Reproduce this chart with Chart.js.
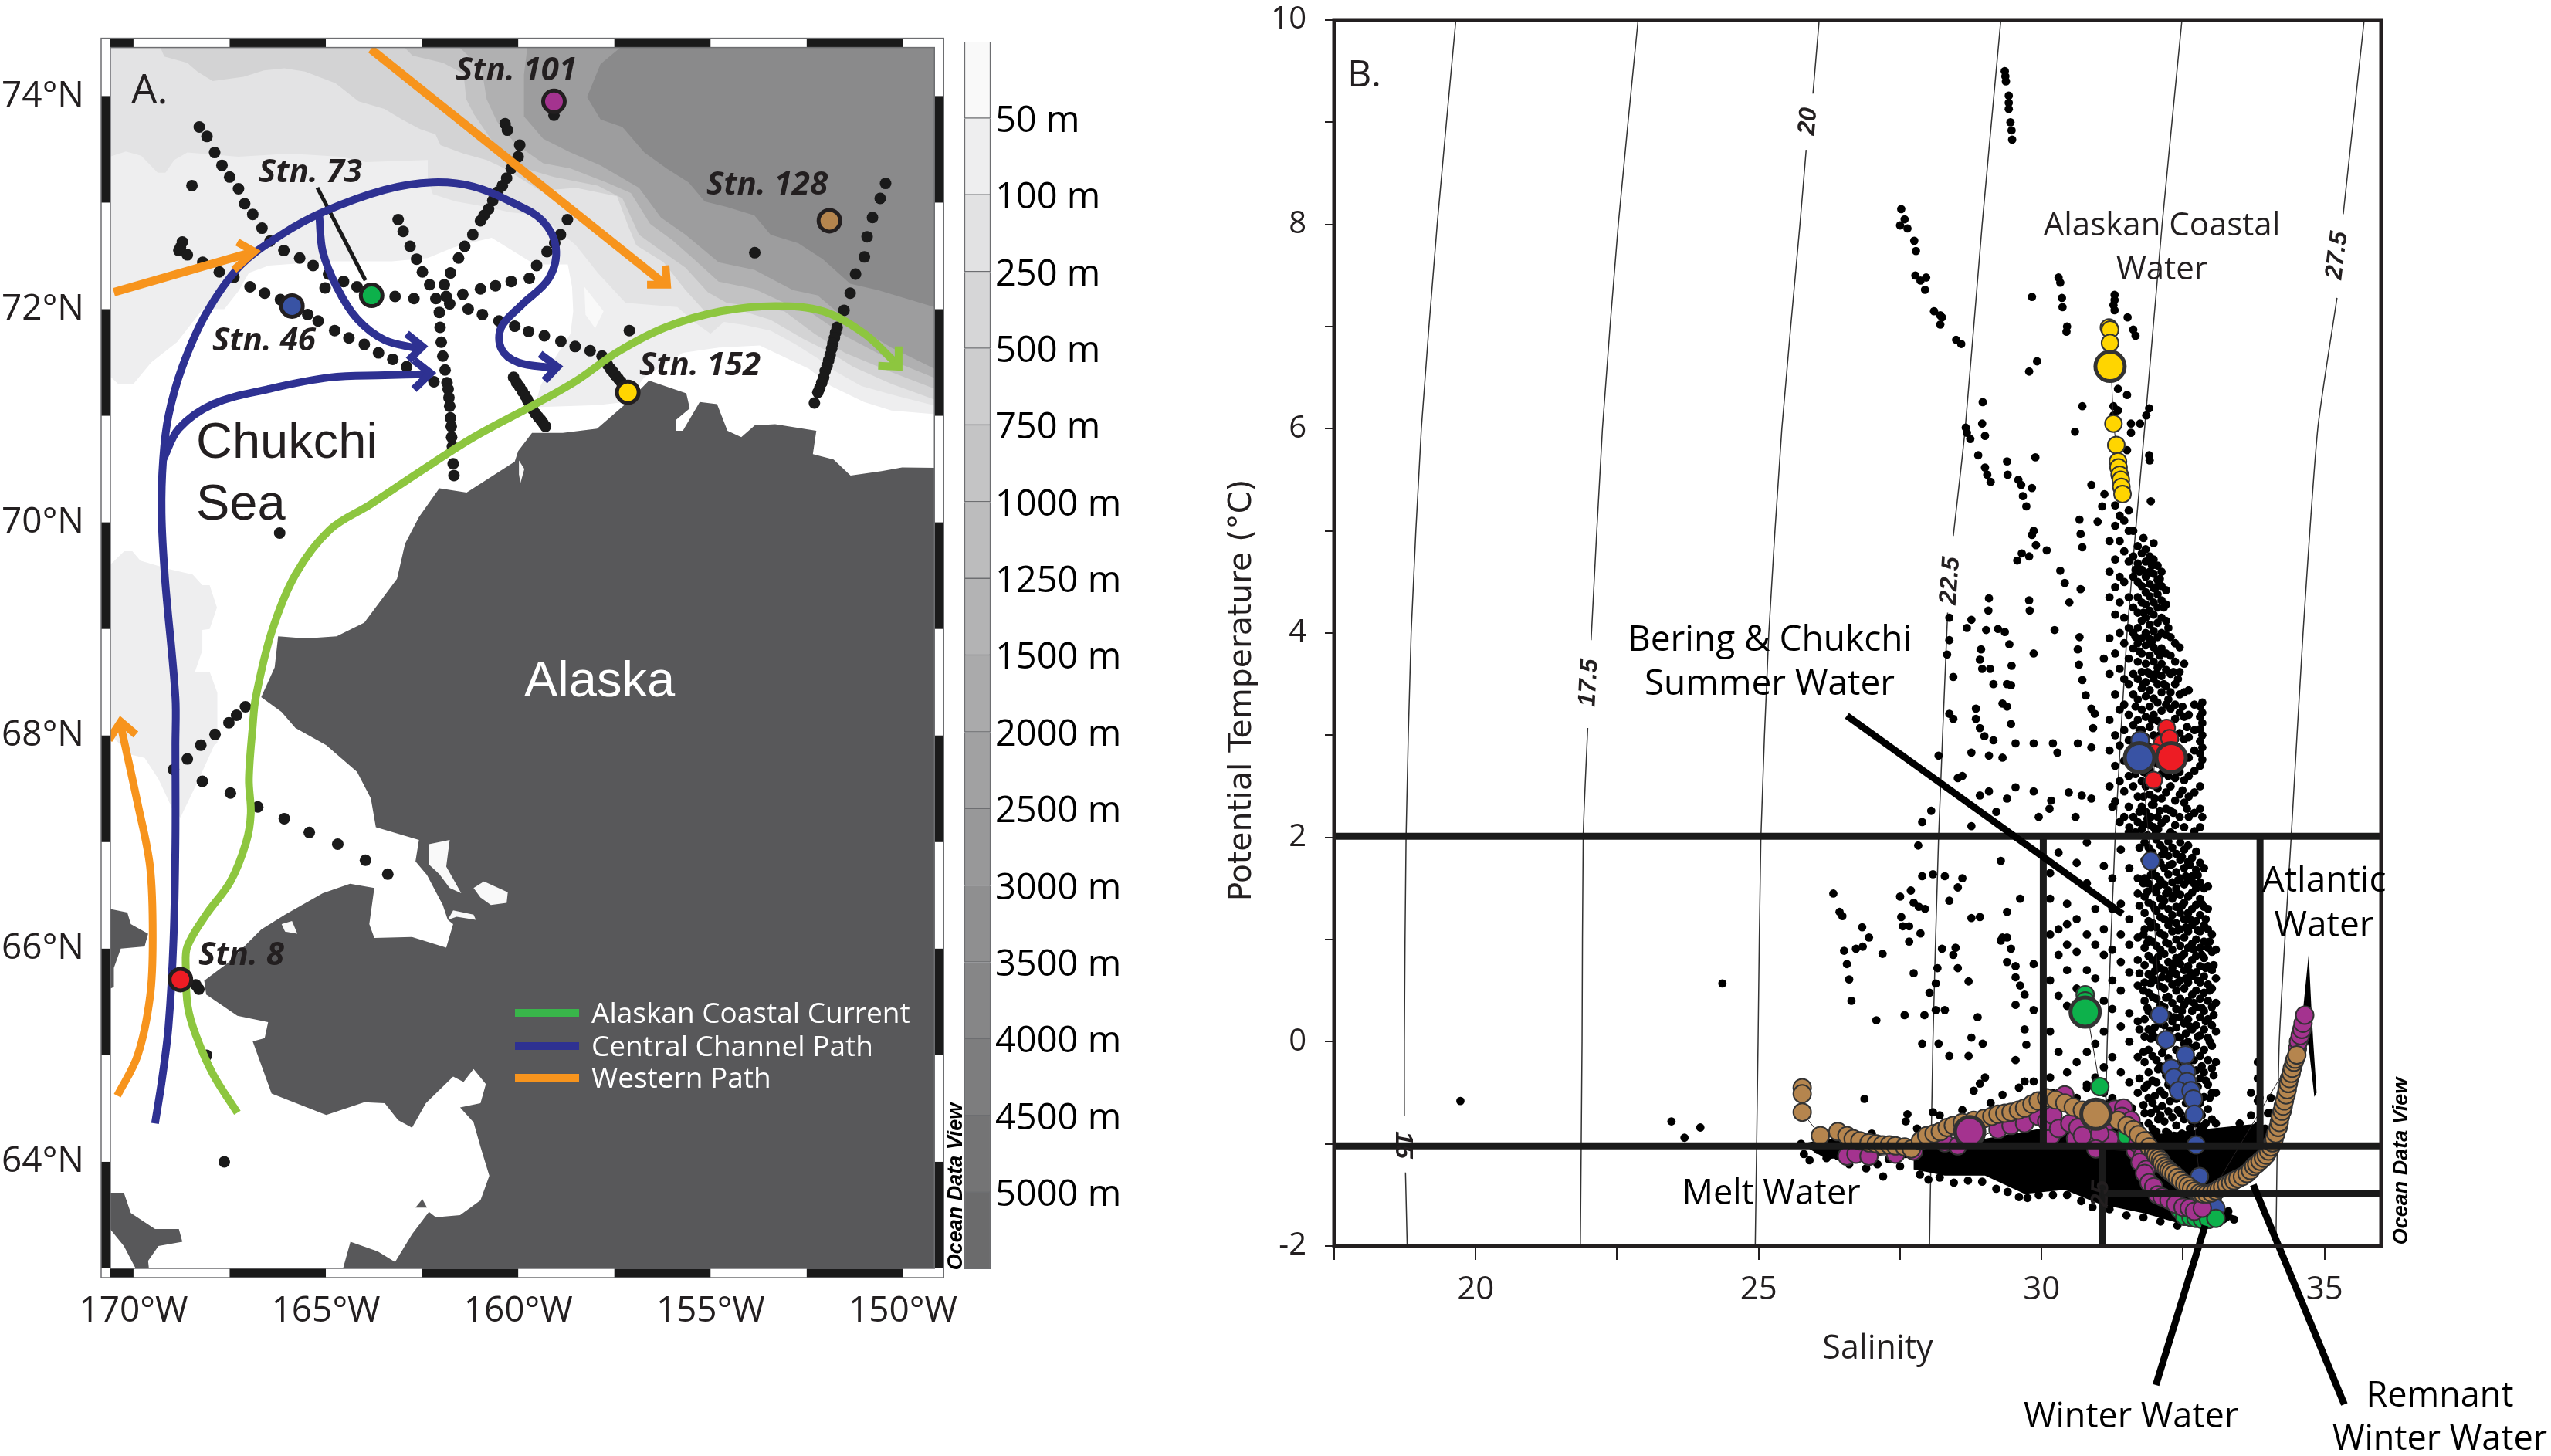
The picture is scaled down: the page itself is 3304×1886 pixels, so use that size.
<!DOCTYPE html>
<html>
<head>
<meta charset="utf-8">
<title>Chukchi Sea stations and T-S diagram</title>
<script src="https://cdn.jsdelivr.net/npm/chart.js@4/dist/chart.umd.js"></script>
<style>
html, body { margin: 0; background: #fff; }
canvas { position: absolute; top: 0; }
#mapCanvas { left: 0; }
#depthCanvas { left: 1236px; }
#tsCanvas { left: 1500px; }
</style>
</head>
<body>
<canvas id="mapCanvas" width="1270" height="1886"></canvas>
<canvas id="depthCanvas" width="264" height="1886"></canvas>
<canvas id="tsCanvas" width="1804" height="1886"></canvas>
<script>
// ---------- panel A: map values, [longitude, latitude] ----------
const lonTicks = [-170, -165, -160, -155, -150];
const latTicks = [64, 66, 68, 70, 72, 74];
const frameLonBands = [[-170.6, -170], [-167.5, -165], [-162.5, -160], [-157.5, -155], [-152.5, -150]];
const frameLatBands = [[63, 64], [65, 66], [67, 68], [69, 70], [71, 72], [73, 74]];

const contour50 = [[-170.7,71.40],[-170.4,71.3],[-170,71.3],[-169.54,71.5],[-168.87,71.69],[-168.2,72],[-167.64,72],[-167.27,72.17],[-167,72.34],[-166.48,72.41],[-164.95,72.45],[-163.28,72.45],[-162.35,72.48],[-161.68,72.58],[-161.15,72.63],[-160.69,72.67],[-159.57,72.42],[-158.71,72.42],[-158.6,72.21],[-158.57,71.98],[-158.64,71.77],[-159,71.57],[-159.42,71.28],[-159.57,71.08],[-157.93,71.1],[-157.21,71.13],[-156.72,71.36],[-155.72,71.59],[-154.79,71.64],[-153.72,71.66],[-152.44,71.44],[-151.87,71.28],[-151.01,71.13],[-150.3,71.05],[-149,71.01],[-149,74.6],[-170.7,74.6]];
const contour50West = [[-170.7,69.57],[-170.24,69.73],[-170.03,69.73],[-169.82,69.64],[-169.07,69.56],[-168.46,69.51],[-168.21,69.41],[-168.02,69.41],[-167.83,69.2],[-168.02,69],[-168.21,68.99],[-168.21,68.8],[-168.4,68.6],[-168.02,68.6],[-167.82,68.4],[-167.82,67.93],[-167.9,67.91],[-168.3,67.59],[-168.78,67.23],[-169,67.32],[-169.35,67.59],[-169.71,67.79],[-170.07,67.82],[-170.7,68.04]];
const shelfPocket = [[-158.28,72.21],[-157.78,71.98],[-158,71.82],[-158.25,71.95]];
const contour100 = [[-170.7,73.42],[-170.2,73.48],[-169.8,73.44],[-169.37,73.28],[-169.17,73.28],[-168.94,73.4],[-168.6,73.47],[-167.27,73.43],[-165.94,73.46],[-164.61,73.43],[-163.95,73.38],[-162.35,73.4],[-162.35,73.23],[-162.22,73.08],[-161.62,73.01],[-160.82,72.96],[-160.21,72.91],[-159.42,72.88],[-158.5,72.6],[-157.93,72.34],[-157.21,72.06],[-155.86,72.02],[-155.43,71.88],[-155,71.77],[-154.65,71.88],[-154.08,71.85],[-153.44,71.8],[-152.79,71.67],[-152.22,71.54],[-151.72,71.41],[-151.08,71.28],[-150.3,71.2],[-149,71.08],[-149,74.6],[-170.7,74.6]];
const contour250 = [[-169.47,74.6],[-169.2,74.37],[-168.6,74.31],[-168.34,74.23],[-167.94,74.14],[-167.14,74.18],[-166.61,74.24],[-166.08,74.26],[-165.54,74.23],[-164.75,74.12],[-164.15,73.95],[-163.48,73.88],[-163.02,73.78],[-162.55,73.69],[-162.15,73.64],[-162.02,73.54],[-161.42,73.46],[-160.82,73.4],[-160.35,73.32],[-159.42,73.11],[-158.5,73.14],[-157.43,73.06],[-157.14,72.78],[-156.93,72.6],[-156.22,72.44],[-155.65,72.18],[-155.15,71.98],[-154.15,71.98],[-153.44,71.9],[-152.58,71.72],[-151.87,71.59],[-151.3,71.46],[-150.3,71.3],[-149,71.13],[-149,74.6]];
const contour500 = [[-163.35,74.6],[-162.75,74.38],[-161.95,74.31],[-161.42,74.21],[-161.35,73.97],[-161.15,73.83],[-160.28,73.37],[-159.07,73.24],[-157.93,73.16],[-157.29,73.04],[-156.86,72.7],[-156.29,72.55],[-155.65,72.39],[-155.07,72.16],[-154.58,72.06],[-153.72,72.02],[-153.08,71.98],[-152.3,71.77],[-151.51,71.59],[-150.3,71.41],[-149,71.23],[-149,74.6]];
const contour1000 = [[-161.95,74.6],[-160.95,74.26],[-160.82,73.97],[-160.55,73.76],[-160.07,73.55],[-159.35,73.37],[-158.64,73.32],[-157.71,73.19],[-157.07,73.09],[-156.57,72.8],[-156,72.65],[-155.43,72.47],[-154.79,72.26],[-153.86,72.19],[-153.08,72.06],[-152.44,71.98],[-151.51,71.75],[-150.3,71.52],[-149,71.33],[-149,74.6]];
const contour1500 = [[-159.71,74.6],[-159.85,74.2],[-159.85,73.81],[-159.35,73.6],[-158.64,73.47],[-157.86,73.35],[-156.86,73.14],[-156.29,72.86],[-155.65,72.7],[-154.79,72.44],[-153.86,72.37],[-152.86,72.18],[-152.22,72.13],[-151.37,71.87],[-150.3,71.64],[-149,71.41],[-149,74.6]];
const contour2500 = [[-156.86,74.6],[-157.86,74.3],[-158.21,73.99],[-157.86,73.78],[-157.29,73.71],[-156.72,73.47],[-156.14,73.32],[-155.57,73.19],[-155.15,73.01],[-154.58,72.96],[-153.86,72.88],[-153.44,72.7],[-152.72,72.62],[-152.08,72.47],[-151.37,72.24],[-150.65,72.18],[-149,72],[-149,74.6]];

// land outlines
const alaskaCoast = [[-149,70.51],[-150.02,70.515],[-150.55,70.48],[-151.36,70.44],[-151.8,70.59],[-152.34,70.64],[-152.25,70.86],[-153.32,70.92],[-153.85,70.91],[-154.2,70.8],[-154.56,70.86],[-154.83,71.11],[-155.28,71.13],[-155.72,70.86],[-155.9,70.86],[-155.9,70.96],[-155.54,71.07],[-155.63,71.21],[-156.6,71.33],[-157.15,71.13],[-157.95,70.88],[-158.84,70.84],[-159.64,70.84],[-160,70.67],[-160.09,70.57],[-161.34,70.28],[-162.05,70.32],[-162.58,70.05],[-162.94,69.8],[-163.15,69.47],[-164,69.06],[-164.72,68.93],[-165.52,68.91],[-166.24,68.93],[-166.33,68.64],[-166.68,68.36],[-166.15,68.22],[-165.79,68.07],[-164.99,67.91],[-164.19,67.66],[-163.83,67.41],[-163.7,67.14],[-162.58,67.02],[-162.67,66.82],[-162.37,66.69],[-161.96,66.41],[-161.83,66.27],[-161.69,66.23],[-161.87,66.01],[-162.76,66.11],[-163.74,66.1],[-163.87,66.23],[-163.74,66.57],[-164.37,66.61],[-165.08,66.52],[-166.06,66.32],[-166.68,66.18],[-167.57,65.86],[-168.16,65.7],[-168.11,65.57],[-167.3,65.37],[-166.5,65.31],[-166.59,65.16],[-166.9,65.13],[-166.41,64.64],[-164.99,64.44],[-164,64.56],[-163.47,64.55],[-163.12,64.39],[-162.76,64.32],[-162.4,64.55],[-161.69,64.8],[-161.42,64.75],[-161.16,64.87],[-160.84,64.73],[-160.98,64.55],[-161.51,64.51],[-161.16,64.37],[-160.98,64.14],[-160.75,63.87],[-160.98,63.64],[-161.51,63.5],[-162.14,63.48],[-162.32,63.53],[-162.76,63.32],[-163.2,63.06],[-163.65,63.16],[-164.36,63.25],[-164.63,62.9],[-149,62.9]];
const chukotkaCoast = [[-170.7,66.38],[-170.16,66.34],[-170.07,66.23],[-169.62,66.14],[-169.71,66.02],[-170.33,66],[-170.51,65.82],[-170.51,65.64],[-170.7,65.61]];
const stLawrenceCoast = [[-170.7,63.71],[-170.25,63.71],[-170.07,63.52],[-169.44,63.37],[-168.82,63.37],[-168.73,63.25],[-169.35,63.21],[-169.62,63.07],[-169.57,62.9],[-169.8,62.9],[-170.25,63.21],[-170.7,63.41]];
const nunivakCoast = [[-162.67,63.57],[-162.49,63.65],[-162.37,63.57]];
const inletKotzebue = [[-162.32,66.98],[-161.78,67.02],[-161.87,66.77],[-161.48,66.52],[-161.78,66.57],[-162.05,66.7],[-162.32,66.79]];
const inletSelawik = [[-161.16,66.57],[-160.89,66.63],[-160.27,66.53],[-160.3,66.43],[-160.71,66.41],[-160.98,66.48]];
const inletBuckland = [[-161.83,66.27],[-161.69,66.36],[-161.16,66.32],[-161.1,66.27],[-161.6,66.3]];
const inletShishmaref = [[-166.15,66.23],[-165.88,66.26],[-165.74,66.14],[-166.06,66.16]];
const inletWainwright = [[-159.98,70.58],[-159.84,70.5],[-159.94,70.37],[-159.98,70.45]];

// sampling stations, in transects
const transectNW = [[-168.29,73.71],[-168.09,73.62],[-167.89,73.47],[-167.7,73.35],[-167.5,73.24],[-167.27,73.13],[-167.11,72.99],[-166.9,72.89],[-166.66,72.76],[-166.45,72.64],[-166.09,72.55],[-165.68,72.48],[-165.33,72.41],[-164.93,72.33],[-164.54,72.26],[-164.19,72.21],[-163.2,72.12],[-162.71,72.1],[-162.14,72.1],[-161.78,72.05]];
const transectWest = [[-168.73,72.63],[-168.78,72.58],[-168.82,72.55],[-168.6,72.51],[-168.2,72.44],[-167.77,72.35],[-167.39,72.3],[-166.97,72.21],[-166.59,72.15],[-166.18,72.09],[-165.47,71.95],[-165.2,71.89],[-164.77,71.8],[-164.4,71.73],[-164,71.67],[-163.63,71.59],[-163.26,71.53],[-162.9,71.46],[-162.19,71.32]];
const transectCentral = [[-163.12,72.84],[-162.99,72.73],[-162.81,72.59],[-162.64,72.47],[-162.49,72.35],[-162.3,72.23],[-162.05,71.97],[-162.03,71.83],[-162,71.69],[-161.96,71.56],[-161.9,71.43],[-161.85,71.31],[-161.82,71.25],[-161.8,71.17],[-161.78,71.09],[-161.76,70.98],[-161.74,70.9],[-161.73,70.8],[-161.71,70.71],[-161.69,70.55],[-161.67,70.44]];
const transectHerald = [[-160.34,73.74],[-160.28,73.68],[-159.96,73.54],[-160,73.43],[-160.18,73.32],[-160.3,73.23],[-160.41,73.16],[-160.53,73.1],[-160.66,73.02],[-160.77,72.94],[-160.89,72.88],[-160.98,72.83],[-161.18,72.7],[-161.39,72.59],[-161.55,72.48],[-161.76,72.34],[-161.92,72.23]];
const transectHanna = [[-158.72,72.84],[-158.9,72.7],[-159.05,72.62],[-159.25,72.54],[-159.52,72.41],[-159.71,72.29],[-160.18,72.26],[-160.59,72.22],[-160.98,72.19],[-161.44,72.14],[-161.87,72.12]];
const transectBarrow = [[-161.3,72],[-160.93,71.95],[-160.5,71.89],[-160.09,71.84],[-159.73,71.79],[-159.32,71.75],[-158.89,71.7],[-158.52,71.65],[-158.13,71.61],[-157.82,71.56],[-157.75,71.52],[-157.68,71.48],[-157.6,71.44],[-157.53,71.41],[-157.47,71.38],[-157.4,71.35],[-157.33,71.32]];
const transectLedyard = [[-160.12,71.36],[-160.04,71.31],[-159.96,71.27],[-159.89,71.23],[-159.82,71.19],[-159.76,71.15],[-159.7,71.11],[-159.62,71.06],[-159.55,71.02],[-159.48,70.99],[-159.41,70.96],[-159.35,70.93],[-159.29,70.9]];
const transectBeaufort = [[-150.45,73.18],[-150.59,73.04],[-150.79,72.86],[-150.93,72.68],[-151,72.49],[-151.23,72.33],[-151.37,72.15],[-151.53,71.99],[-151.71,71.83],[-151.75,71.78],[-151.78,71.73],[-151.82,71.68],[-151.85,71.63],[-151.89,71.57],[-151.93,71.52],[-151.97,71.47],[-152.02,71.42],[-152.06,71.36],[-152.11,71.31],[-152.16,71.26],[-152.21,71.22],[-152.3,71.12]];
const transectLisburne = [[-167.09,68.27],[-167.32,68.19],[-167.52,68.12],[-167.88,68.01],[-168.25,67.91],[-168.6,67.78],[-168.96,67.68]];
const transectHope = [[-168.21,67.57],[-167.48,67.46],[-166.77,67.33],[-166.08,67.22],[-165.43,67.09],[-164.69,66.98],[-163.97,66.83],[-163.39,66.7]];
const loneStations = [[-168.48,73.16],[-157.11,71.8],[-153.85,72.53],[-166.2,69.9],[-167.64,64],[-168.3,65.62],[-168.38,65.66],[-168.1,65],[-159.07,73.82],[-165.02,72.2]];

const stationPoints = [
  { name: 'Stn. 101', at: [-159.07,73.95], color: '#a4338f' },
  { name: 'Stn. 128', at: [-151.91,72.83], color: '#b5854e' },
  { name: 'Stn. 73',  at: [-163.81,72.13], color: '#0db14b' },
  { name: 'Stn. 46',  at: [-165.88,72.03], color: '#3953a4' },
  { name: 'Stn. 152', at: [-157.15,71.22], color: '#ffd500' },
  { name: 'Stn. 8',   at: [-168.78,65.71], color: '#ed1c24' }
];

// current paths
const centralPath = [[-169.44,64.36],[-169.26,64.77],[-169.09,65.27],[-168.96,66.09],[-168.91,67],[-168.91,67.91],[-168.91,68.36],[-169.18,69.47],[-169.27,70.09],[-169.23,70.59],[-169.09,71],[-168.73,71.46],[-168.11,71.96],[-167.22,72.41],[-166.15,72.7],[-165.08,72.91],[-163.47,73.12],[-162.23,73.19],[-161.16,73.15],[-160.09,72.99],[-159.37,72.83],[-159.02,72.58],[-159.2,72.29],[-159.91,72.04],[-160.44,71.83],[-160.44,71.63],[-160,71.5],[-159.1,71.45]];
const centralHead = [[-159.43,71.58],[-158.98,71.46],[-159.32,71.33]];
const shelfBranch = [[-169.23,70.59],[-168.82,70.88],[-167.93,71.11],[-166.5,71.25],[-164.9,71.36],[-163.47,71.38],[-162.4,71.39]];
const shelfHead = [[-162.71,71.52],[-162.28,71.4],[-162.71,71.25]];
const hannaBranch = [[-165.17,72.87],[-165.08,72.54],[-164.72,72.21],[-164.19,71.91],[-163.47,71.71],[-162.58,71.63]];
const hannaHead = [[-162.9,71.77],[-162.49,71.65],[-162.85,71.52]];
const coastalCurrent = [[-167.3,64.46],[-167.93,64.82],[-168.37,65.18],[-168.59,65.46],[-168.64,65.82],[-168.6,66.02],[-168.11,66.32],[-167.48,66.63],[-167.07,67],[-166.95,67.27],[-167,67.59],[-166.9,68.09],[-166.82,68.36],[-166.41,68.97],[-165.79,69.51],[-164.9,69.93],[-163.83,70.17],[-162.58,70.47],[-161.15,70.8],[-159.55,71.11],[-158.48,71.33],[-157.41,71.6],[-156.17,71.83],[-154.74,71.98],[-153.31,72.03],[-152.07,71.98],[-151,71.77],[-150.2,71.5]];
const coastalHead = [[-150.11,71.65],[-150.11,71.46],[-150.64,71.47]];
const westernNorth = [[-163.83,74.44],[-156.17,72.23]];
const westernNorthHead = [[-156.17,72.41],[-156.13,72.23],[-156.65,72.23]];
const westernInflow = [[-170.51,72.16],[-166.86,72.54]];
const westernInflowHead = [[-167.3,72.63],[-166.86,72.54],[-167.39,72.37]];
const westernSouth = [[-170.42,64.62],[-169.89,65],[-169.57,65.55],[-169.5,66.09],[-169.57,66.77],[-169.89,67.36],[-170.33,68.09]];
const westernSouthHead = [[-170.64,67.96],[-170.33,68.13],[-169.94,68.01]];
const stn73Pointer = [[-165.22,73.14],[-163.97,72.27]];

// ---------- depth scale ----------
const depthLabels = ['50 m','100 m','250 m','500 m','750 m','1000 m','1250 m','1500 m','2000 m','2500 m','3000 m','3500 m','4000 m','4500 m','5000 m'];
const depthColors = ['#f9f9f9','#eeeeef','#e2e2e3','#d6d6d7','#cdcdce','#c4c4c5','#bcbcbd','#b3b3b4','#aaaaab','#a1a1a2','#989899','#8f8f90','#868687','#7d7d7e','#747475','#6b6b6c'];

// ---------- panel B: T-S values, [salinity, potential temperature] ----------
const salinityTicks = [17.5, 20, 22.5, 25, 27.5, 30, 32.5, 35];
const temperatureTicks = [-2, -1, 0, 1, 2, 3, 4, 5, 6, 7, 8, 9, 10];

const sigma15 = [[18.79,-2],[18.76,-1.28],[null,null],[18.74,-0.73],[18.74,0],[18.77,2],[18.86,4],[19.04,6],[19.32,8],[19.65,10]];
const sigma175 = [[21.85,-2],[21.88,0],[21.9,2],[21.98,3.07],[null,null],[22.04,3.93],[22.24,6],[22.52,8],[22.87,10]];
const sigma20 = [[24.94,-2],[24.99,0],[25.04,2],[25.18,4],[25.41,6],[25.73,8],[25.84,8.73],[null,null],[25.96,9.28],[26.07,10]];
const sigma225 = [[28.02,-2],[28.08,0],[28.18,2],[28.34,4.2],[null,null],[28.44,4.95],[28.65,6],[28.95,8],[29.28,10]];
const sigma25 = [[31.08,-2],[31.16,0],[31.3,2],[31.51,4],[31.82,6],[32.13,8],[32.48,10]];
const sigma275 = [[34.14,-2],[34.2,0],[34.41,2],[34.62,4],[34.88,6],[35.22,7.28],[null,null],[35.33,8.1],[35.7,10]];

const summerLine = [[17.5,2.01],[36,2.01]];
const winterTopLine = [[17.5,-1.02],[36,-1.02]];
const remnantLine = [[31.05,-1.49],[36,-1.49]];
const boxLeft = [[30.03,-1],[30.03,2]];
const boxRight = [[33.86,-1],[33.86,2]];
const boxBottom = [[31.07,-2],[31.07,-1]];
const summerPointer = [[26.56,3.19],[31.43,1.25]];
const winterPointer = [[32.89,-1.8],[32.02,-3.36]];
const remnantPointer = [[33.74,-1.4],[35.35,-3.55]];
const deepTail = [[34.72,0.86],[34.77,0.3],[34.8,0],[34.86,-0.5],[34.82,-0.54],[34.72,-0.05],[34.6,0.2]];

const freezingCloud = [[25.75,-1],[26.2,-1.15],[27.74,-1.08],[27.74,-1.25],[28.29,-1.31],[29,-1.31],[29.31,-1.39],[29.7,-1.49],[30.41,-1.45],[31.03,-1.59],[31.82,-1.68],[32.45,-1.78],[33.23,-1.78],[33.42,-1.71],[33.15,-1.63],[33.23,-1.42],[33.86,-1.12],[34.02,-0.95],[33.86,-0.8],[32.1,-0.9],[31,-0.78],[30,-0.85],[29,-0.95],[27.74,-0.95],[26.2,-0.95]];
const cloudEdge = [[25.75,-1],[25.8,-1.1],[25.9,-1.16],[26.05,-1.06],[26.2,-1.14],[26.4,-1.12],[26.3,-1.02],[26.6,-1.2],[26.9,-1.24],[27.1,-1.2],[27.3,-1.15],[27.5,-1.22],[27.2,-1.32],[27.6,-1.1],[27.85,-1.3],[28,-1.35],[28.2,-1.33],[28.45,-1.38],[28.7,-1.36],[28.95,-1.37],[29.2,-1.44],[29.4,-1.47],[29.6,-1.52],[29.75,-1.53],[29.95,-1.5],[30.2,-1.5],[30.45,-1.5],[30.7,-1.56],[30.9,-1.62],[31.2,-1.64],[31.5,-1.7],[31.8,-1.72],[32.1,-1.76],[32.4,-1.8],[33.4,-1.74],[33.3,-1.66],[27,-0.9],[27.6,-0.78],[27.8,-0.85],[28.2,-0.72],[28.5,-0.8],[29.1,-0.6],[29.6,-0.45],[30.2,-0.5],[30.8,-0.42],[31.2,-0.6],[31.6,-0.65],[33.3,-0.9],[33.6,-1],[33.95,-0.85],[34,-0.7],[33.85,-0.55]];

const bottlesHigh = [[29.35,9.5],[29.36,9.45],[29.37,9.4],[29.42,9.26],[29.42,9.19],[29.42,9.13],[29.45,9],[29.47,8.92],[29.48,8.83],
  [27.52,8.15],[27.58,8.05],[27.5,7.99],[27.63,7.96],[27.75,7.84],[27.78,7.74],[27.77,7.5],[27.86,7.45],[27.96,7.48],[27.94,7.36],[28.1,7.15],[28.21,7.11],[28.24,7.09],[28.21,7.02],[28.49,6.87],[28.58,6.83],
  [30.3,7.48],[30.33,7.43],[29.83,7.29],[30.36,7.28],[30.37,7.19],[30.45,7],[30.44,6.95],[31.29,7.31],[31.29,7.26],[31.27,7.21],[31.29,7.16],[31.52,7.09],[31.62,6.97],[31.66,6.91],[29.92,6.66],[29.78,6.56],[31.35,6.39],[31.51,6.33],[30.72,6.22],[30.59,5.97],[31.27,6.22],[31.35,6.18],[31.27,6.13],[31.9,6.2],[31.85,6.13],[31.74,6.05],[31.58,6.05],[31.58,5.96],[31.51,5.79],[31.9,5.74],[31.91,5.69]];
const bottlesMid = [[28.96,6.26],[28.66,6.01],[28.68,5.96],[28.74,5.9],[28.95,6.05],[29,5.93],[28.88,5.74],[29,5.62],[29.04,5.55],[29.1,5.48],[29.39,5.68],[29.4,5.55],[29.59,5.5],[29.64,5.45],[29.83,5.42],[29.89,5.72],[29.67,5.34],[29.73,5.24],[30.88,5.45],[31.11,5.36],[31.07,5.24],[31.93,5.29],[30.67,5.11],[30.99,5.09],[30.69,4.97],[30.72,4.84],[29.86,5],[29.83,4.96],[29.9,4.86],[30.09,4.81],[29.57,4.71],[29.65,4.78],[29.78,4.75],[30.33,4.61],[30.41,4.49],[30.49,4.3],[30.69,4.43],[29.07,4.34],[29.06,4.22],[28.76,4.13],[28.68,4.05],[29.23,4.04],[29.35,4.01],[29.43,3.89],[29.02,4.03],[28.37,4.15],[28.37,3.93],[28.33,3.79],[28.93,3.84],[28.91,3.74],[28.95,3.65],[29.09,3.65],[29.47,3.68],[28.44,3.57],[29.15,3.5],[29.39,3.5],[29.46,3.49],[29.31,3.31],[29.39,3.28],[28.37,3.21],[28.84,3.26],[28.84,3.16],[28.44,3.16],[29.46,3.11],[28.91,3.07],[28.99,2.99],[29.15,2.95],[29.54,2.92],[29.86,2.92],[30.2,2.92],[30.28,2.83],[30.64,2.92],[30.88,2.88],[29.78,4.32],[29.79,4.22],[30.23,4.03],[30.67,3.96],[30.64,3.84],[30.66,3.69],[29.86,3.8],[31.1,3.75],[30.72,3.54],[30.78,3.39],[30.88,3.26],[30.94,3.21],[30.91,3.07],[28.18,2.8],[28.76,2.83],[29.07,2.8],[29.31,2.78]];
const bottlesLow = [[19.73,-0.58],[24.36,0.57],[23.46,-0.78],[23.97,-0.84],[23.69,-0.94],[26.87,-0.56],[27.08,0.21],[26.64,0.4],[26.6,0.61],[26.56,0.76],[26.51,0.89],[26.72,0.91],[26.84,0.93],[26.95,1.02],[26.83,1.12],[26.48,1.23],[26.43,1.27],[26.32,1.45],[27.19,0.86],[27.5,1.42],[27.69,1.48],[27.74,1.36],[27.83,1.32],[27.94,1.3],[27.52,1.22],[27.55,1.13],[27.66,1.13],[27.86,1.06],[27.66,0.98],[28.24,0.91],[28.48,0.92],[28.44,0.85],[28.16,0.72],[28.52,0.72],[27.74,0.67],[28.71,0.59],[28.13,0.57],[28.02,0.48],[28.13,0.31],[28.29,0.31],[27.58,0.26],[27.93,0.26],[28.87,0.24],[27.89,-0.02],[28.18,-0.02],[28.37,-0.14],[28.71,-0.14],[28.76,0.04],[28.96,-0.02],[27.82,1.92],[27.89,1.62],[28.08,1.64],[28.29,1.62],[28.6,1.6],[28.52,1.51],[28.37,1.38],[29.28,1.77],[29.62,1.4],[28.76,1.21],[28.91,1.22],[29.39,1.27],[29.31,1.02],[29.28,0.99],[29.39,1.02],[29.46,0.91],[29.39,0.78],[29.54,0.74],[29.54,0.63],[29.62,0.55],[29.7,0.46],[29.54,0.36],[29.86,0.31],[29.86,0.76],[29.7,0.12],[29.73,-0.03],[29.54,-0.18],[29.7,-0.39],[29.86,-0.39],[29,-0.35],[28.91,-0.41],[28.8,-0.48],[29.31,-0.52],[27.63,-0.71],[28.08,-0.69],[28.6,-0.67],[28.52,2.58],[28.6,2.6],[29.07,2.45],[29.54,2.49],[29.39,2.38],[29.86,2.45],[30.17,2.36],[30.14,2.28],[30.48,2.44],[30.71,2.41],[30.88,2.38],[28.05,2.26],[27.89,2.15],[28.91,2.41],[28.76,2.11],[29.2,2.25],[29.95,2.2],[30.6,2.2]];
// vertical casts: salinity first, then the temperatures along that cast
const castsOuter = [
  [30.15,1.65,1.4,1.05,0.6,0.1,-0.35,-0.6],
  [30.3,1.85,1.1,0.85,0.45,-0.1,-0.5],
  [30.45,1.35,1.15,0.95,0.7,0.35,-0.3,-0.62],
  [30.62,1.75,1.2,0.88,0.52,-0.2,-0.55],
  [30.8,1.95,1.55,1.05,0.7,-0.1,-0.45],
  [30.95,1.3,0.95,0.62,-0.02,-0.35,-0.62],
  [31.1,1.72,1.1,0.85,0.4,0.1,-0.25,-0.5],
  [31.25,2.3,1.6,1.3,0.9,0.6,0.32,-0.15,-0.55],
  [31.4,1.88,1.35,1.05,0.78,0.5,0.15,-0.3,-0.6],
  [31.55,2.1,1.7,1.2,0.95,0.68,0.28,0,-0.4,-0.7],
  [31.7,1.6,1.45,1.02,0.8,0.55,0.2,-0.15,-0.5]
];
const castsUpper = [
  [31.2,4.9,4.6,4.35,3.95,3.6,3.15,2.85,2.5],
  [31.3,5.25,5.05,4.72,4.45,4.18,3.8,3.4,3,2.7,2.35],
  [31.38,5.4,5.15,4.9,4.55,4.3,4,3.65,3.25,2.9,2.55,2.15],
  [31.46,5.1,4.8,4.5,4.15,3.9,3.55,3.3,3.05,2.75,2.45,2.2],
  [31.54,5.2,5,4.7,4.35,4.05,3.75,3.5,3.2,2.95,2.6,2.3,2.05],
  [31.62,5,4.75,4.55,4.25,4,3.85,3.6,3.4,3.1,2.85,2.5,2.2],
  [31.7,4.85,4.68,4.5,4.35,4.2,4.05,3.9,3.72,3.55,3.35,3.15,2.95,2.7,2.4,2.15],
  [31.77,4.78,4.62,4.46,4.3,4.12,3.95,3.8,3.62,3.46,3.25,3.05,2.82,2.55,2.3,2.08],
  [31.84,4.82,4.7,4.55,4.4,4.28,4.15,4,3.88,3.7,3.52,3.38,3.18,2.98,2.75,2.5,2.25],
  [31.91,4.75,4.6,4.48,4.36,4.22,4.08,3.94,3.78,3.6,3.44,3.28,3.08,2.88,2.66,2.42,2.12],
  [31.98,4.88,4.72,4.58,4.44,4.3,4.18,4.02,3.86,3.72,3.55,3.36,3.2,3,2.78,2.56,2.32,2.1],
  [32.05,4.66,4.52,4.38,4.25,4.1,3.96,3.82,3.66,3.5,3.32,3.14,2.94,2.72,2.48,2.2],
  [32.12,4.6,4.46,4.32,4.15,4,3.85,3.7,3.58,3.42,3.24,3.06,2.86,2.62,2.38,2.14],
  [32.2,4.42,4.28,4.12,3.98,3.8,3.64,3.48,3.3,3.1,2.9,2.68,2.44,2.18],
  [32.28,3.96,3.78,3.6,3.42,3.26,3.08,2.9,2.7,2.5,2.26,2.05],
  [32.36,3.9,3.72,3.5,3.3,3.16,2.96,2.78,2.58,2.36,2.12],
  [32.44,3.86,3.62,3.4,3.22,3.02,2.84,2.64,2.42,2.2],
  [32.52,3.7,3.42,3.18,2.96,2.76,2.56,2.34,2.1],
  [32.6,3.44,3.2,2.98,2.78,2.6,2.4,2.2],
  [32.7,3.3,3.05,2.85,2.65,2.44,2.24,2.06],
  [32.8,3.28,3.18,3.06,2.94,2.82,2.7,2.5,2.28,2.1],
  [32.84,3.32,3.22,3.12,3,2.88,2.76,2.2],
  [31.66,4.62,3.96,3.28,2.62,2.05],[31.73,4.6,3.82,3.05,2.25],[31.8,4.93,4.2,3.5,2.64,2.12],[31.87,4.58,3.62,2.86,2.18],[31.95,4.66,3.92,3.15,2.32],[32.02,4.45,3.6,2.88,2.05],[32.09,4.53,3.78,3,2.26],[32.16,4.25,3.5,2.72],[32.24,4.05,3.35,2.6],[32.33,3.62,2.86,2.24],[32.41,3.55,2.72],[32.49,3.28,2.46],[32.57,3.08,2.28]
];
const castsLower = [
  [31.82,1.95,1.78,1.6,1.42,1.26,1.1,0.92,0.75,0.58,0.4,0.22,0.05,-0.2,-0.45,-0.7],
  [31.89,1.9,1.72,1.55,1.36,1.18,1,0.84,0.66,0.48,0.3,0.12,-0.08,-0.3,-0.55,-0.8],
  [31.96,1.85,1.68,1.5,1.34,1.16,0.98,0.8,0.62,0.44,0.26,0.08,-0.14,-0.38,-0.6,-0.85],
  [32.03,1.98,1.8,1.62,1.46,1.28,1.12,0.94,0.76,0.6,0.42,0.24,0.04,-0.18,-0.4,-0.66,-0.88],
  [32.1,1.92,1.75,1.58,1.4,1.22,1.06,0.9,0.72,0.54,0.36,0.18,0,-0.24,-0.48,-0.72],
  [32.17,1.88,1.7,1.54,1.38,1.2,1.04,0.86,0.7,0.52,0.34,0.16,-0.05,-0.28,-0.52,-0.78],
  [32.24,1.96,1.82,1.64,1.48,1.3,1.14,0.96,0.78,0.62,0.44,0.26,0.06,-0.16,-0.42,-0.68,-0.9],
  [32.31,1.9,1.74,1.56,1.4,1.24,1.08,0.9,0.72,0.56,0.38,0.2,0.02,-0.22,-0.46,-0.74],
  [32.38,1.84,1.66,1.5,1.32,1.16,1,0.82,0.66,0.5,0.32,0.14,-0.08,-0.32,-0.56,-0.82],
  [32.45,1.95,1.78,1.6,1.44,1.26,1.1,0.94,0.76,0.6,0.42,0.24,0.04,-0.2,-0.44,-0.7],
  [32.52,1.88,1.7,1.54,1.36,1.2,1.02,0.86,0.7,0.52,0.36,0.18,-0.02,-0.26,-0.5,-0.76],
  [32.59,1.92,1.76,1.58,1.42,1.26,1.08,0.92,0.74,0.58,0.4,0.22,0,-0.22,-0.48,-0.72,-0.92],
  [32.66,1.8,1.62,1.46,1.3,1.14,0.96,0.8,0.64,0.46,0.3,0.12,-0.06,-0.3,-0.54,-0.78],
  [32.73,1.86,1.68,1.5,1.34,1.18,1,0.84,0.68,0.5,0.34,0.16,-0.04,-0.28,-0.52,-0.8],
  [32.8,1.75,1.56,1.4,1.24,1.08,0.92,0.74,0.58,0.42,0.24,0.06,-0.14,-0.36,-0.6,-0.86],
  [32.87,1.7,1.5,1.32,1.14,0.98,0.82,0.64,0.48,0.3,0.12,-0.08,-0.3,-0.54,-0.82],
  [32.94,1.52,1.3,1.1,0.92,0.74,0.56,0.4,0.22,0.04,-0.18,-0.42,-0.66,-0.9],
  [33.01,1.05,0.88,0.7,0.52,0.34,0.16,-0.04,-0.26,-0.5,-0.76,-1.02],
  [33.08,0.9,0.62,0.38,0.1,-0.2,-0.5,-0.8,-1.1],
  [33.5,-0.8,-0.92],[33.7,-0.5,-0.72,-0.88],[33.82,-0.2,-0.36,-0.58,-0.82],[34.05,-0.55,-0.7],
  [31.73,1.9,1.33,0.67,0.12,-0.36,-0.82],[31.8,2.4,1.55,1.05,0.5,-0.1,-0.62],[31.87,2.62,2.02,1.47,0.97,0.33,-0.42,-0.93],[31.93,2.2,1.63,1.12,0.57,0.03,-0.7],[32,2.38,1.75,1.3,0.69,0.14,-0.53,-0.95],[32.06,2.08,1.52,0.83,0.29,-0.27,-0.76],[32.13,1.83,1.33,0.63,-0.11,-0.63,-0.96],[32.2,2.28,1.45,0.97,0.43,-0.33,-0.88],[32.27,1.73,1.18,0.66,0.11,-0.58],[32.34,2.02,1.43,0.77,0.24,-0.4,-0.92],[32.41,1.58,1.09,0.58,0.05,-0.67],[32.48,1.81,1.33,0.84,0.3,-0.35,-0.9],[32.55,1.62,1.12,0.62,0.08,-0.6],[32.62,1.73,1.2,0.68,0.15,-0.38,-0.85],[32.69,1.55,0.9,0.38,-0.18,-0.66],[32.76,1.63,1.09,0.6,0.05,-0.44,-0.92],[32.83,1.35,0.85,0.33,-0.24,-0.72],[32.9,1.2,0.72,0.2,-0.38,-0.8],[32.97,0.98,0.5,0,-0.55,-0.95],[33.04,0.75,0.26,-0.33,-0.9]
];

const stn152Profile = [[31.19,6.99],[31.21,6.97],[31.21,6.84],[31.27,6.05],[31.32,5.84],[31.35,5.68],[31.36,5.62],[31.38,5.55],[31.4,5.5],[31.41,5.43],[31.43,5.36]];
const stn152Surface = [[31.21,6.61]];
const stn8Profile = [[32.21,3.07],[32.13,2.92],[32.26,2.97],[32,2.83],[31.98,2.56]];
const stn8Surface = [[32.29,2.78]];
const stn46Profile = [[31.74,2.95],[31.93,1.77],[32.09,0.26],[32.2,0.02],[32.54,-0.13],[32.29,-0.26],[32.56,-0.3],[32.34,-0.35],[32.57,-0.39],[32.42,-0.48],[32.64,-0.48],[32.68,-0.56],[32.7,-0.71],[32.73,-1.01],[32.79,-1.32],[32.84,-1.48],[33.08,-1.63]];
const stn46Surface = [[31.73,2.78]];
const stn73Profile = [[30.77,0.46],[30.77,0.4],[31.03,-0.44],[31.5,-0.92],[32.45,-1.65],[32.53,-1.71],[32.64,-1.72],[32.73,-1.73],[32.84,-1.74],[32.95,-1.74],[33.08,-1.73]];
const stn73Surface = [[30.77,0.29]];
const stn101Profile = [[26.56,-1.12],[26.72,-1.1],[26.95,-1.12],[27.42,-1.1],[27.74,-1.07],[28.29,-0.99],[28.52,-1.02],[29.23,-0.86],[29.46,-0.82],[29.7,-0.8],[29.94,-0.73],[30.17,-0.92],[30.41,-0.52],[30.09,-0.78],[30.2,-0.72],[30.3,-0.85],[30.5,-0.8],[30.6,-0.95],[30.8,-0.75],[30.9,-0.9],[31.1,-0.82],[31.2,-0.95],[31.3,-0.66],[31.45,-0.65],[30.64,-0.84],[30.72,-0.92],[31.03,-0.9],[31.11,-0.73],[31.42,-0.73],[31.58,-0.77],[30.96,-1.05],[31.66,-1.07],[31.7,-1],[31.78,-1.12],[31.74,-1.18],[31.85,-1.25],[31.82,-1.29],[31.9,-1.38],[31.98,-1.42],[32.05,-1.5],[32.13,-1.52],[32.25,-1.55],[32.37,-1.59],[32.5,-1.62],[32.61,-1.63],[32.7,-1.66],[32.84,-1.63],[34.52,-0.07],[34.54,0],[34.57,0.06],[34.6,0.12],[34.62,0.18],[34.65,0.26]];
const stn101Surface = [[28.73,-0.88]];
const stn128Profile = [[25.77,-0.45],[25.77,-0.51],[25.77,-0.69],[26.09,-0.92],[26.4,-0.88],[26.56,-0.92],[26.67,-0.95],[26.79,-0.97],[26.95,-0.99],[27.08,-1],[27.19,-1.01],[27.31,-1.01],[27.42,-1.02],[27.58,-1.03],[27.7,-1.05],[27.86,-0.97],[27.97,-0.92],[28.1,-0.9],[28.21,-0.88],[28.33,-0.84],[28.44,-0.82],[28.6,-0.79],[28.8,-0.77],[28.99,-0.75],[29.12,-0.73],[29.23,-0.71],[29.35,-0.7],[29.46,-0.69],[29.59,-0.67],[29.7,-0.65],[29.83,-0.61],[29.94,-0.58],[30.09,-0.55],[30.25,-0.57],[30.41,-0.6],[30.56,-0.64],[30.72,-0.67],[31.11,-0.73],[31.35,-0.77],[31.51,-0.82],[31.62,-0.86],[31.71,-0.91],[31.82,-0.97],[31.9,-1.03],[31.98,-1.08],[32.02,-1.11],[32.06,-1.14],[32.1,-1.16],[32.13,-1.19],[32.17,-1.22],[32.21,-1.24],[32.25,-1.26],[32.29,-1.28],[32.34,-1.3],[32.4,-1.33],[32.46,-1.36],[32.53,-1.39],[32.59,-1.41],[32.65,-1.44],[32.72,-1.46],[32.79,-1.48],[32.85,-1.49],[32.92,-1.49],[33,-1.48],[33.08,-1.46],[33.14,-1.44],[33.2,-1.42],[33.27,-1.4],[33.34,-1.38],[33.4,-1.36],[33.47,-1.34],[33.55,-1.32],[33.63,-1.29],[33.69,-1.26],[33.75,-1.22],[33.8,-1.2],[33.86,-1.17],[33.92,-1.14],[33.97,-1.11],[34.01,-1.07],[34.05,-1.03],[34.08,-0.99],[34.11,-0.95],[34.14,-0.9],[34.18,-0.84],[34.2,-0.79],[34.22,-0.73],[34.25,-0.68],[34.27,-0.63],[34.29,-0.58],[34.32,-0.52],[34.34,-0.47],[34.36,-0.41],[34.38,-0.36],[34.41,-0.31],[34.43,-0.26],[34.46,-0.2],[34.48,-0.17],[34.51,-0.13]];
const stn128Surface = [[30.96,-0.71]];

// ---------- drawing helpers ----------
const INK = '#231f20';
const BODY_FONT = '"Open Sans"';
const polygon = (data, color) => ({ data, showLine: true, fill: 'shape', backgroundColor: color, borderWidth: 0, pointRadius: 0, tension: 0 });
const path = (data, color, width, tension = 0, clip = undefined) => ({ data, showLine: true, fill: false, borderColor: color, borderWidth: width, pointRadius: 0, tension, clip });
const dots = (data, radius, color, edge = color, edgeWidth = 0, joinWidth = 0) => ({
  data, showLine: joinWidth > 0, borderColor: INK, borderWidth: joinWidth, tension: 0,
  pointRadius: radius, pointBackgroundColor: color, pointBorderColor: edge, pointBorderWidth: edgeWidth
});
const casts = rows => rows.flatMap(([sal, ...temps]) => temps.map(t => [sal, t]));

// text placed in page pixels: [text, x, y, font, colour, align, rotation]
const textPlugin = (id, labels) => ({
  id,
  afterDraw(chart) {
    const ctx = chart.ctx;
    const offset = chart.canvas.offsetLeft;
    labels.forEach(([text, x, y, font, color, align = 'left', rotate = 0]) => {
      ctx.save();
      ctx.translate(x - offset, y);
      ctx.rotate(rotate * Math.PI / 180);
      ctx.font = font;
      ctx.fillStyle = color;
      ctx.textAlign = align;
      ctx.textBaseline = 'alphabetic';
      ctx.fillText(text, 0, 0);
      ctx.restore();
    });
  }
});

const mapLabels = [
  ['A.', 170, 134, `53px ${BODY_FONT}`, INK],
  ['Chukchi', 254, 593, '65px "Liberation Sans"', INK],
  ['Sea', 254, 673, '65px "Liberation Sans"', INK],
  ['Alaska', 679, 902, '65px "Liberation Sans"', '#ffffff'],
  ['Stn. 101', 590, 104, `italic bold 42px ${BODY_FONT}`, INK],
  ['Stn. 73', 335, 236, `italic bold 42px ${BODY_FONT}`, INK],
  ['Stn. 46', 275, 454, `italic bold 42px ${BODY_FONT}`, INK],
  ['Stn. 128', 915, 252, `italic bold 42px ${BODY_FONT}`, INK],
  ['Stn. 152', 828, 486, `italic bold 42px ${BODY_FONT}`, INK],
  ['Stn. 8', 257, 1250, `italic bold 42px ${BODY_FONT}`, INK],
  ['Alaskan Coastal Current', 766, 1325, `37px ${BODY_FONT}`, '#ffffff'],
  ['Central Channel Path', 766, 1368, `37px ${BODY_FONT}`, '#ffffff'],
  ['Western Path', 766, 1409, `37px ${BODY_FONT}`, '#ffffff'],
  ['Ocean Data View', 1246, 1537, 'italic bold 27px "Liberation Sans"', '#000000', 'center', -90]
];
const legendEntries = [['#39b54a', 1312], ['#2e3192', 1355], ['#f7941d', 1396]];

const mapFrame = {
  id: 'mapFrame',
  afterDraw(chart) {
    const { ctx, chartArea: a, scales: { x, y } } = chart;
    const strip = 12;
    ctx.save();
    ctx.fillStyle = '#1a1a1a';
    frameLonBands.forEach(([from, to]) => {
      const p0 = x.getPixelForValue(from), p1 = x.getPixelForValue(to);
      ctx.fillRect(p0, a.top - strip, p1 - p0, strip);
      ctx.fillRect(p0, a.bottom, p1 - p0, strip);
    });
    frameLatBands.forEach(([from, to]) => {
      const p0 = y.getPixelForValue(to), p1 = y.getPixelForValue(from);
      ctx.fillRect(a.left - strip, p0, strip, p1 - p0);
      ctx.fillRect(a.right, p0, strip, p1 - p0);
    });
    ctx.strokeStyle = '#6d6e71';
    ctx.lineWidth = 1.5;
    ctx.strokeRect(a.left, a.top, a.right - a.left, a.bottom - a.top);
    ctx.strokeRect(a.left - strip, a.top - strip, a.right - a.left + strip * 2, a.bottom - a.top + strip * 2);
    legendEntries.forEach(([color, py]) => {
      ctx.fillStyle = color;
      ctx.fillRect(667, py - 5, 83, 10);
    });
    ctx.restore();
  }
};

// ---------- panel A ----------
const transects = [transectNW, transectWest, transectCentral, transectHerald, transectHanna, transectBarrow, transectLedyard, transectBeaufort, transectLisburne, transectHope, loneStations];
const mapLayers = [
  polygon(contour50, '#eeeeef'), polygon(contour50West, '#eeeeef'), polygon(shelfPocket, '#f9f9f9'),
  polygon(contour100, '#e3e3e4'), polygon(contour250, '#d3d3d4'), polygon(contour500, '#c2c2c3'),
  polygon(contour1000, '#b0b0b1'), polygon(contour1500, '#9d9d9e'), polygon(contour2500, '#8a8a8b'),
  polygon(alaskaCoast, '#58585a'), polygon(chukotkaCoast, '#58585a'), polygon(stLawrenceCoast, '#58585a'), polygon(nunivakCoast, '#58585a'),
  polygon(inletKotzebue, '#f9f9f9'), polygon(inletSelawik, '#f9f9f9'), polygon(inletBuckland, '#f9f9f9'), polygon(inletShishmaref, '#f9f9f9'), polygon(inletWainwright, '#f9f9f9'),
  ...transects.map(t => dots(t, 7.5, '#1a1a1a')),
  path(stn73Pointer, '#1a1a1a', 5),
  path(centralPath, '#2e3192', 10, 0.35), path(centralHead, '#2e3192', 10),
  path(shelfBranch, '#2e3192', 10, 0.35), path(shelfHead, '#2e3192', 10),
  path(hannaBranch, '#2e3192', 10, 0.35), path(hannaHead, '#2e3192', 10),
  path(coastalCurrent, '#8dc63f', 10, 0.35), path(coastalHead, '#8dc63f', 10),
  path(westernNorth, '#f7941d', 11), path(westernNorthHead, '#f7941d', 10),
  path(westernInflow, '#f7941d', 11), path(westernInflowHead, '#f7941d', 10),
  path(westernSouth, '#f7941d', 10, 0.35), path(westernSouthHead, '#f7941d', 10),
  ...stationPoints.map(s => dots([s.at], 14, s.color, INK, 5))
];

new Chart(document.getElementById('mapCanvas'), {
  type: 'scatter',
  data: { datasets: mapLayers.slice().reverse() },
  plugins: [mapFrame, textPlugin('mapText', mapLabels)],
  options: {
    responsive: false, animation: false, events: [],
    layout: { autoPadding: false, padding: { top: 56, right: 54, bottom: 143 } },
    plugins: { legend: { display: false }, tooltip: { enabled: false } },
    scales: {
      x: {
        type: 'linear', min: -170.6, max: -149.18,
        afterBuildTicks: axis => { axis.ticks = lonTicks.map(value => ({ value })); },
        afterFit: axis => { axis.height = 100; },
        grid: { display: false, drawTicks: false }, border: { display: false },
        ticks: { padding: 28, color: INK, maxRotation: 0, autoSkip: false, font: { family: BODY_FONT, size: 46 }, callback: v => `${Math.abs(v)}°W` }
      },
      y: {
        type: 'linear', min: 63, max: 74.455,
        afterBuildTicks: axis => { axis.ticks = latTicks.map(value => ({ value })); },
        afterFit: axis => { axis.width = 143; },
        grid: { display: false, drawTicks: false }, border: { display: false },
        ticks: { padding: 34, color: INK, autoSkip: false, font: { family: BODY_FONT, size: 46 }, callback: v => `${v}°N` }
      }
    }
  }
});

// ---------- depth scale ----------
new Chart(document.getElementById('depthCanvas'), {
  type: 'bar',
  data: {
    labels: ['depth'],
    datasets: depthColors.map(color => ({
      data: [1], backgroundColor: color, borderColor: '#6d6e71', borderWidth: 1.5,
      barPercentage: 1, categoryPercentage: 1
    }))
  },
  options: {
    responsive: false, animation: false, events: [],
    layout: { autoPadding: false, padding: { left: 13, top: 54, bottom: 242 } },
    plugins: { legend: { display: false }, tooltip: { enabled: false } },
    scales: {
      x: { stacked: true, display: false },
      y: {
        stacked: true, position: 'right', reverse: true, min: 0, max: depthColors.length,
        afterBuildTicks: axis => { axis.ticks = depthLabels.map((_, i) => ({ value: i + 1 })); },
        afterFit: axis => { axis.width = 217; },
        grid: { display: false, drawTicks: false }, border: { display: false },
        ticks: { padding: 6, labelOffset: 4, color: '#000', autoSkip: false, font: { family: BODY_FONT, size: 47 }, callback: v => depthLabels[v - 1] }
      }
    }
  }
});

// ---------- panel B ----------
const tsLabels = [
  ['B.', 1767, 112, `48px ${BODY_FONT}`, INK, 'center'],
  ['Potential Temperature (°C)', 1620, 894, '41px "DejaVu Sans"', INK, 'center', -90],
  ['Salinity', 2432, 1760, `43px ${BODY_FONT}`, INK, 'center'],
  ['Alaskan Coastal', 2800, 305, `42px ${BODY_FONT}`, INK, 'center'],
  ['Water', 2800, 362, `42px ${BODY_FONT}`, INK, 'center'],
  ['Bering & Chukchi', 2292, 843, `46px ${BODY_FONT}`, '#000', 'center'],
  ['Summer Water', 2292, 900, `46px ${BODY_FONT}`, '#000', 'center'],
  ['Atlantic', 3010, 1155, `46px ${BODY_FONT}`, '#000', 'center'],
  ['Water', 3010, 1213, `46px ${BODY_FONT}`, '#000', 'center'],
  ['Melt Water', 2294, 1560, `45px ${BODY_FONT}`, '#000', 'center'],
  ['Winter Water', 2760, 1849, `45px ${BODY_FONT}`, '#000', 'center'],
  ['Remnant', 3160, 1822, `45px ${BODY_FONT}`, '#000', 'center'],
  ['Winter Water', 3160, 1878, `45px ${BODY_FONT}`, '#000', 'center'],
  ['Ocean Data View', 3118, 1504, 'italic bold 27px "Liberation Sans"', '#000', 'center', -90],
  ['15', 1808, 1483, 'italic bold 32px "Liberation Sans"', INK, 'center', 90],
  ['17.5', 2067, 885, 'italic bold 32px "Liberation Sans"', INK, 'center', -87],
  ['20', 2351, 158, 'italic bold 32px "Liberation Sans"', INK, 'center', -85],
  ['22.5', 2535, 753, 'italic bold 32px "Liberation Sans"', INK, 'center', -86],
  ['25', 2730, 1547, 'italic bold 32px "Liberation Sans"', INK, 'center', -88],
  ['27.5', 3036, 332, 'italic bold 32px "Liberation Sans"', INK, 'center', -83]
];

const tsFrame = {
  id: 'tsFrame',
  afterDraw(chart) {
    const { ctx, chartArea: a } = chart;
    ctx.save();
    ctx.strokeStyle = '#231f20';
    ctx.lineWidth = 5;
    ctx.strokeRect(a.left, a.top, a.right - a.left, a.bottom - a.top);
    ctx.restore();
  }
};

const BOTTLE = 5.4;
const tsLayers = [
  ...[sigma15, sigma175, sigma20, sigma225, sigma25, sigma275].map(s => path(s, '#333333', 1.5, 0.2)),
  dots(bottlesHigh, BOTTLE, '#000'), dots(bottlesMid, BOTTLE, '#000'), dots(bottlesLow, BOTTLE, '#000'),
  dots(casts(castsOuter), BOTTLE, '#000'), dots(casts(castsUpper), BOTTLE, '#000'), dots(casts(castsLower), BOTTLE, '#000'),
  polygon(freezingCloud, '#000'), dots(cloudEdge, BOTTLE, '#000'),
  polygon(deepTail, '#000'),
  dots(stn8Profile, 11, '#ed1c24', '#333', 2, 1), dots(stn152Profile, 11, '#ffd500', '#333', 2, 1),
  dots(stn46Profile, 11.5, '#3953a4', '#333', 2, 1), dots(stn73Profile, 11.5, '#0db14b', '#333', 2, 1),
  dots(stn101Profile, 11.5, '#a4338f', '#333', 2, 1), dots(stn128Profile, 11.5, '#b5854e', '#333', 2, 1),
  ...[[stn8Surface, '#ed1c24'], [stn152Surface, '#ffd500'], [stn46Surface, '#3953a4'], [stn73Surface, '#0db14b'], [stn101Surface, '#a4338f'], [stn128Surface, '#b5854e']]
    .map(([d, c]) => dots(d, 19, c, '#333', 5)),
  ...[boxBottom, boxLeft, boxRight, remnantLine, winterTopLine, summerLine].map(l => path(l, '#1a1a1a', 9)),
  ...[summerPointer, winterPointer, remnantPointer].map(l => path(l, '#000', 9, 0, false))
];

new Chart(document.getElementById('tsCanvas'), {
  type: 'scatter',
  data: { datasets: tsLayers.slice().reverse() },
  plugins: [tsFrame, textPlugin('tsText', tsLabels)],
  options: {
    responsive: false, animation: false, events: [],
    layout: { autoPadding: false, padding: { top: 26, right: 220, bottom: 172 } },
    plugins: { legend: { display: false }, tooltip: { enabled: false } },
    scales: {
      x: {
        type: 'linear', min: 17.5, max: 36,
        afterBuildTicks: axis => { axis.ticks = salinityTicks.map(value => ({ value })); },
        afterFit: axis => { axis.height = 100; axis.paddingLeft = 0; axis.paddingRight = 0; },
        grid: { drawOnChartArea: false, tickLength: 18, color: INK, lineWidth: 2 }, border: { display: false },
        ticks: { padding: 14, color: INK, maxRotation: 0, autoSkip: false, font: { family: BODY_FONT, size: 42 }, callback: v => (v % 5 === 0 ? v : '') }
      },
      y: {
        type: 'linear', min: -2, max: 10,
        afterBuildTicks: axis => { axis.ticks = temperatureTicks.map(value => ({ value })); },
        afterFit: axis => { axis.width = 228; axis.paddingTop = 0; axis.paddingBottom = 0; },
        grid: { drawOnChartArea: false, tickLength: 12, color: INK, lineWidth: 2 }, border: { display: false },
        ticks: { padding: 24, color: INK, autoSkip: false, font: { family: BODY_FONT, size: 40 }, callback: v => (v % 2 === 0 ? v : '') }
      }
    }
  }
});
</script>
</body>
</html>
